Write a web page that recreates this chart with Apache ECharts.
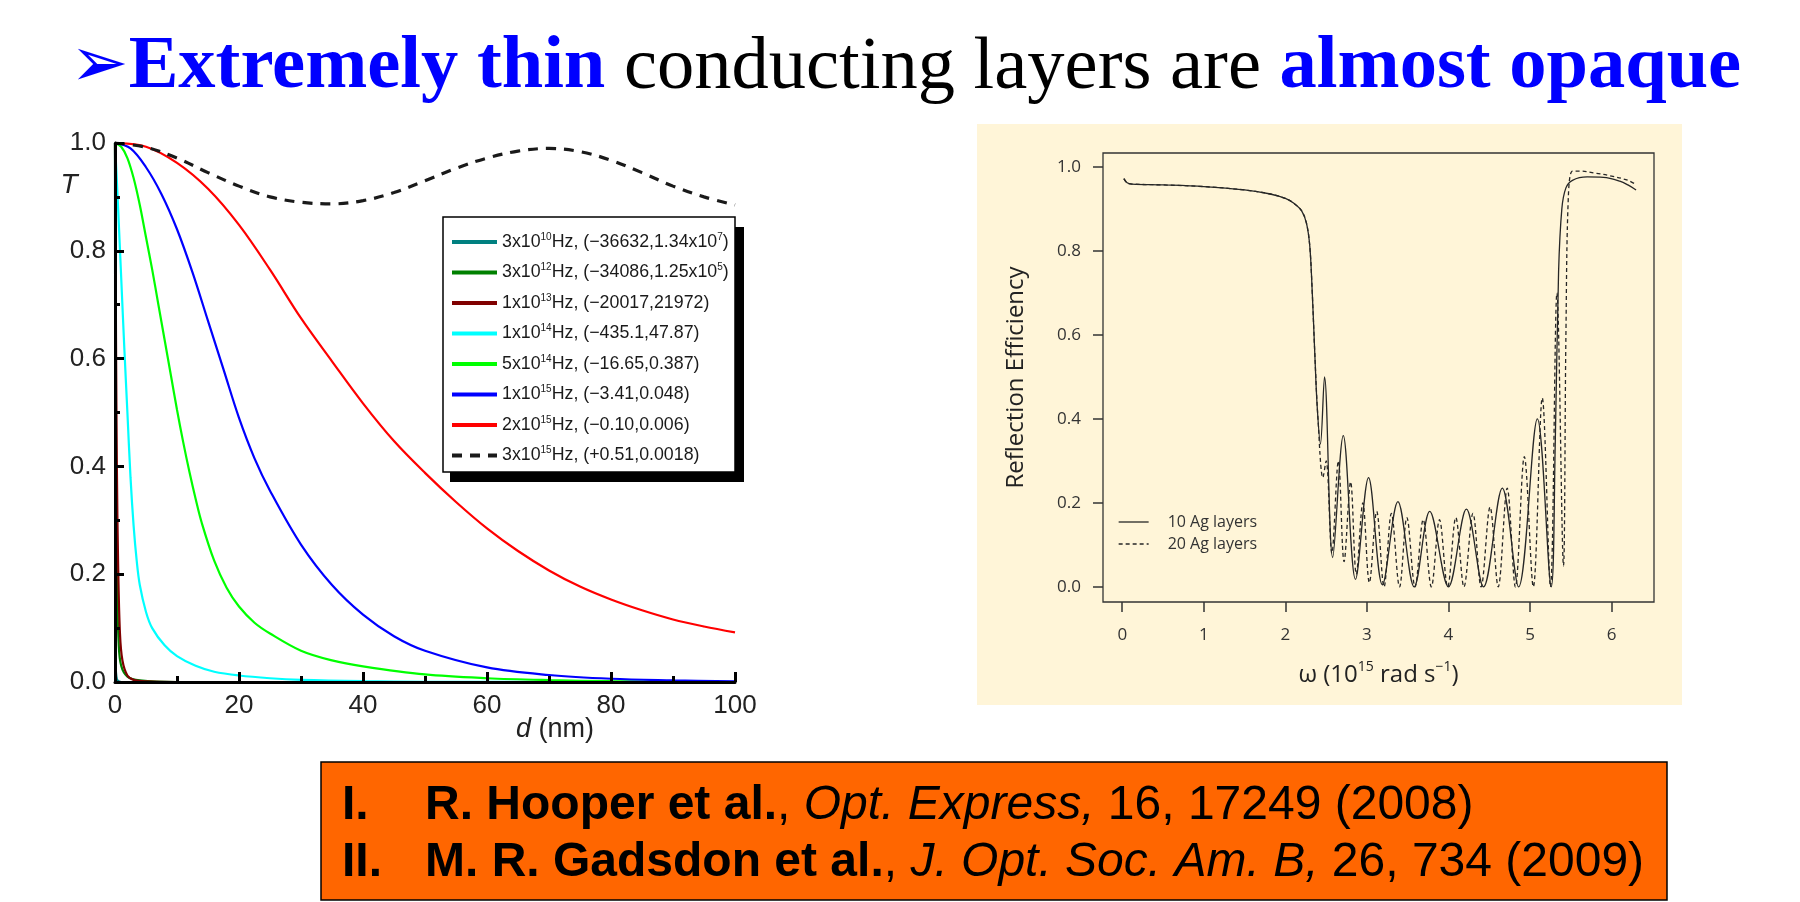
<!DOCTYPE html>
<html><head><meta charset="utf-8">
<script src="https://cdn.jsdelivr.net/npm/echarts@6/dist/echarts.min.js"></script>
<style>html,body{margin:0;padding:0;background:#fff}#main{width:1800px;height:902px}</style>
</head><body><div id="main"></div>
<script>
// ================= DATA =================
// Slide title pieces
const titleParts = [
  ['arrow', '➢'],
  ['hi', 'Extremely thin'],
  ['norm', ' conducting layers are '],
  ['hi', 'almost opaque']
];

// Left chart: transmission T vs film thickness d (nm)
const leftLegendNames = [
  '3x10^10Hz, (−36632,1.34x10^7)',
  '3x10^12Hz, (−34086,1.25x10^5)',
  '1x10^13Hz, (−20017,21972)',
  '1x10^14Hz, (−435.1,47.87)',
  '5x10^14Hz, (−16.65,0.387)',
  '1x10^15Hz, (−3.41,0.048)',
  '2x10^15Hz, (−0.10,0.006)',
  '3x10^15Hz, (+0.51,0.0018)'
];
const t3e10 = [[0,1],[0.02,0.6],[0.05,0.2],[0.1,0.04],[0.3,0.005],[1,0],[100,0]];
const t3e12 = [[0,1],[0.06,0.75],[0.15,0.45],[0.3,0.2],[0.6,0.07],[1,0.03],[2,0.01],[4,0.003],[10,0],[100,0]];
const t1e13 = [[0,1],[0.1,0.8],[0.16,0.64],[0.3,0.4],[0.5,0.22],[0.8,0.09],[1.2,0.04],[2,0.012],[3,0.004],[5,0.001],[10,0],[100,0]];
const t1e14 = [[0,1],[0.5,0.88],[1,0.75],[1.5,0.62],[2,0.5],[2.5,0.38],[3,0.29],[3.5,0.225],[4,0.18],[5,0.13],[6,0.1],[8,0.068],[10,0.048],[13,0.03],[16,0.019],[20,0.012],[25,0.007],[30,0.004],[40,0.0015],[50,0.0005],[60,0.0002],[100,0]];
const t5e14 = [[0,1],[1,0.993],[2,0.972],[3,0.935],[4,0.885],[5,0.825],[6,0.765],[7,0.7],[8,0.635],[9,0.57],[10,0.505],[11,0.445],[12,0.39],[13,0.34],[14,0.295],[16,0.225],[18,0.175],[20,0.14],[22.5,0.11],[25,0.09],[30,0.058],[35,0.04],[40,0.029],[50,0.014],[60,0.007],[70,0.0035],[80,0.0015],[90,0.0006],[100,0]];
const t1e15 = [[0,1],[2.5,0.99],[5,0.955],[7.5,0.905],[10,0.84],[12.5,0.76],[15,0.67],[17.5,0.58],[20,0.49],[22.5,0.415],[25,0.355],[30,0.255],[35,0.18],[40,0.125],[45,0.085],[50,0.058],[60,0.027],[70,0.013],[80,0.006],[90,0.003],[100,0.001]];
const t2e15 = [[0,1],[5,0.993],[10,0.963],[15,0.915],[20,0.848],[25,0.765],[30,0.675],[35,0.595],[40,0.517],[45,0.447],[50,0.388],[55,0.334],[60,0.285],[65,0.243],[70,0.207],[75,0.177],[80,0.153],[85,0.133],[90,0.116],[95,0.103],[100,0.092]];
const t3e15 = [[0,1],[5,0.992],[10,0.972],[15,0.945],[20,0.92],[25,0.9],[30,0.89],[35,0.887],[40,0.893],[45,0.908],[50,0.93],[55,0.953],[60,0.972],[65,0.985],[70,0.99],[75,0.984],[80,0.968],[85,0.945],[90,0.92],[95,0.9],[100,0.885]];
const leftCurves = [t3e10, t3e12, t1e13, t1e14, t5e14, t1e15, t2e15, t3e15];
const leftColors = ['#008080', '#008000', '#800000', '#00FFFF', '#00FF00', '#0000FF', '#FF0000', '#1a1a1a'];

// Right chart: reflection efficiency vs omega (1e15 rad/s)
const rightNames = ['10 Ag layers', '20 Ag layers'];
const r10 = [[0.02,0.972],[0.06,0.962],[0.12,0.959],[0.5,0.957],[1.0,0.953],[1.5,0.945],[1.8,0.936],[2.0,0.925],[2.1,0.914],[2.2,0.895],[2.26,0.865],[2.3,0.81],[2.33,0.70],[2.36,0.56],[2.39,0.43],[2.43,0.34],[2.48,0.50],[2.58,0.07],[2.71,0.36],[2.86,0.018],[3.02,0.26],[3.19,0.005],[3.38,0.203],[3.58,0.0],[3.77,0.18],[4.0,0.0],[4.22,0.185],[4.43,0.0],[4.66,0.235],[4.86,0.0],[5.09,0.40],[5.26,0.0],[5.31,0.35],[5.35,0.75],[5.39,0.9],[5.44,0.95],[5.52,0.968],[5.7,0.976],[5.9,0.975],[6.1,0.966],[6.2,0.957],[6.3,0.945]];
const r20 = [[0.02,0.972],[0.06,0.962],[0.12,0.959],[0.5,0.957],[1.0,0.953],[1.5,0.945],[1.8,0.936],[2.0,0.925],[2.1,0.914],[2.2,0.895],[2.26,0.865],[2.3,0.81],[2.33,0.70],[2.36,0.56],[2.40,0.40],[2.46,0.26],[2.50,0.30],[2.57,0.08],[2.65,0.30],[2.72,0.06],[2.80,0.25],[2.87,0.03],[2.95,0.20],[3.03,0.01],[3.12,0.18],[3.21,0.0],[3.30,0.175],[3.40,0.0],[3.49,0.165],[3.59,0.0],[3.69,0.16],[3.79,0.0],[3.89,0.16],[3.99,0.0],[4.09,0.165],[4.19,0.0],[4.30,0.175],[4.40,0.0],[4.51,0.19],[4.61,0.0],[4.72,0.235],[4.82,0.0],[4.93,0.31],[5.04,0.0],[5.15,0.45],[5.25,0.0],[5.33,0.70],[5.41,0.05],[5.44,0.6],[5.47,0.93],[5.52,0.99],[5.6,0.99],[5.8,0.985],[6.0,0.978],[6.2,0.968],[6.3,0.958]];
const rightXTicks = [0, 1, 2, 3, 4, 5, 6];
const rightYTicks = [0, 0.2, 0.4, 0.6, 0.8, 1.0];

// References box
const refNums = ['I.', 'II.'];
const refAuthors = ['R. Hooper et al.', 'M. R. Gadsdon et al.'];
const refJournals = ['Opt. Express,', 'J. Opt. Soc. Am. B,'];
const refRest = [' 16, 17249 (2008)', ' 26, 734 (2009)'];

// ================= CHART =================
const NARROW = '"Liberation Sans",Arial,sans-serif';
const SANS = '"Open Sans","DejaVu Sans",sans-serif';
const SERIF = '"Liberation Serif","Times New Roman",serif';
const ARIAL = '"Liberation Sans",Arial,sans-serif';

function toRich(s) { return s.replace(/\^([0-9−\-]+)/g, '{s|$1}'); }

const chart = echarts.init(document.getElementById('main'), null, {renderer: 'canvas', width: 1800, height: 902});

const leftSeries = leftCurves.map((c, i) => ({
  type: 'line', name: leftLegendNames[i], xAxisIndex: 0, yAxisIndex: 0,
  data: c, showSymbol: false, symbol: 'none', smooth: 0.35, silent: true,
  lineStyle: {color: leftColors[i], width: i === 7 ? 3.2 : 2.2, type: i === 7 ? [10, 8] : 'solid'},
  itemStyle: {color: leftColors[i]}
}));
const rightSeries = [r10, r20].map((c, i) => ({
  type: 'line', name: rightNames[i], xAxisIndex: 1, yAxisIndex: 1,
  data: c, showSymbol: false, symbol: 'none', smooth: 0.35, silent: true,
  lineStyle: {color: '#262626', width: 1.3, type: i === 1 ? [4, 3] : 'solid'},
  itemStyle: {color: '#262626'}
}));

const titleRich = {
  arrow: {fontSize: 70, fill: '#0000FF', fontFamily: '"DejaVu Sans",sans-serif'},
  hi: {fontSize: 74.5, fontWeight: 'bold', fill: '#0000FF', fontFamily: SERIF},
  norm: {fontSize: 74.5, fill: '#000', fontFamily: SERIF}
};

const graphics = [
  {type: 'rect', z: -10, shape: {x: 977, y: 124, width: 705, height: 581}, style: {fill: '#FFF5D8'}},
  {type: 'rect', z: 2.9, shape: {x: 450, y: 227, width: 294, height: 255}, style: {fill: '#000'}},
  {type: 'rect', z: 3, shape: {x: 443, y: 217, width: 292, height: 255}, style: {fill: '#fff', stroke: '#000', lineWidth: 1.5}},
  {type: 'text', x: 70, y: 68, style: {
    text: titleParts.map(p => '{' + p[0] + '|' + p[1] + '}').join(''),
    verticalAlign: 'middle', rich: titleRich}},
  {type: 'rect', shape: {x: 321, y: 762, width: 1346, height: 138}, style: {fill: '#FF6600', stroke: '#000', lineWidth: 1.5}}
];
refNums.forEach((n, i) => {
  const y = 806 + i * 57;
  graphics.push({type: 'text', x: 342, y: y, style: {text: n, font: 'bold 48px ' + ARIAL, fill: '#000', verticalAlign: 'middle'}});
  graphics.push({type: 'text', x: 425, y: y, style: {
    text: '{b|' + refAuthors[i] + '}{n|, }{i|' + refJournals[i] + '}{n|' + refRest[i] + '}',
    verticalAlign: 'middle',
    rich: {
      b: {fontSize: 48, fontWeight: 'bold', fontFamily: ARIAL, fill: '#000'},
      n: {fontSize: 48, fontFamily: ARIAL, fill: '#000'},
      i: {fontSize: 48, fontStyle: 'italic', fontFamily: ARIAL, fill: '#000'}
    }}});
});

const option = {
  animation: false,
  backgroundColor: '#fff',
  grid: [
    {left: 115, top: 143, width: 620, height: 539, show: false},
    {left: 1103, top: 153, width: 551, height: 449, show: true, borderColor: '#333', borderWidth: 1.3, backgroundColor: 'transparent'}
  ],
  xAxis: [
    {type: 'value', gridIndex: 0, min: 0, max: 100, interval: 20, z: 5,
     axisLine: {show: true, onZero: false, lineStyle: {color: '#000', width: 3}},
     axisTick: {show: true, inside: true, length: 10, lineStyle: {color: '#000', width: 3}},
     minorTick: {show: true, splitNumber: 2, length: 6, lineStyle: {color: '#000', width: 3}},
     splitLine: {show: false}, minorSplitLine: {show: false},
     axisLabel: {fontFamily: NARROW, fontSize: 26, color: '#222', margin: 11},
     name: '{i|d} (nm)', nameLocation: 'middle', nameGap: 34, nameMoveOverlap: false,
     nameTextStyle: {fontFamily: NARROW, fontSize: 27, color: '#222', padding: [0, 0, 0, 260],
       rich: {i: {fontFamily: NARROW, fontSize: 27, fontStyle: 'italic', color: '#222'}}}},
    {type: 'value', gridIndex: 1, min: -0.236, max: 6.52,
     axisLine: {show: false, onZero: false},
     axisTick: {show: true, inside: false, customValues: rightXTicks, length: 10, lineStyle: {color: '#333', width: 1.5}},
     axisLabel: {customValues: rightXTicks, fontFamily: SANS, fontSize: 17, color: '#333', margin: 25},
     splitLine: {show: false},
     name: 'ω (10{s|15} rad s{s|−1})', nameLocation: 'middle', nameGap: 58, nameMoveOverlap: false,
     nameTextStyle: {fontFamily: SANS, fontSize: 24, color: '#222', lineHeight: 30,
       rich: {s: {fontFamily: SANS, fontSize: 14, color: '#222', verticalAlign: 'top', lineHeight: 14}}}}
  ],
  yAxis: [
    {type: 'value', gridIndex: 0, min: 0, max: 1, interval: 0.2, z: 5,
     axisLine: {show: true, onZero: false, lineStyle: {color: '#000', width: 3}},
     axisTick: {show: true, inside: true, length: 9, lineStyle: {color: '#000', width: 3}},
     minorTick: {show: true, splitNumber: 2, length: 5, lineStyle: {color: '#000', width: 3}},
     splitLine: {show: false}, minorSplitLine: {show: false},
     axisLabel: {fontFamily: NARROW, fontSize: 26, color: '#222', margin: 9, formatter: v => v.toFixed(1)},
     name: 'T', nameLocation: 'end', nameGap: -56, nameMoveOverlap: false,
     nameTextStyle: {fontFamily: NARROW, fontSize: 28, fontStyle: 'italic', color: '#222', align: 'center', padding: [0, 92, 0, 0]}},
    {type: 'value', gridIndex: 1, min: -0.036, max: 1.033,
     axisLine: {show: false, onZero: false},
     axisTick: {show: true, inside: false, customValues: rightYTicks, length: 10, lineStyle: {color: '#333', width: 1.5}},
     axisLabel: {customValues: rightYTicks, fontFamily: SANS, fontSize: 17, color: '#333', margin: 22, formatter: v => v.toFixed(1)},
     splitLine: {show: false},
     name: 'Reflection Efficiency', nameLocation: 'middle', nameRotate: 90, nameGap: 75, nameMoveOverlap: false,
     nameTextStyle: {fontFamily: SANS, fontSize: 24, color: '#222'}}
  ],
  legend: [
    {data: leftLegendNames, left: 450, top: 232, orient: 'vertical', padding: 0,
     itemWidth: 45, itemHeight: 14, itemGap: 10.5, selectedMode: false,
     formatter: name => toRich(name),
     lineStyle: {width: 4},
     itemStyle: {opacity: 0},
     textStyle: {fontFamily: NARROW, fontSize: 17.8, color: '#1a1a1a', lineHeight: 20,
       rich: {s: {fontFamily: NARROW, fontSize: 10, color: '#1a1a1a', verticalAlign: 'top', lineHeight: 10}}}},
    {data: rightNames, left: 1118, top: 514, orient: 'vertical', padding: 0,
     itemWidth: 30, itemHeight: 10, itemGap: 6, selectedMode: false,
     lineStyle: {width: 1.3},
     itemStyle: {opacity: 0},
     textStyle: {fontFamily: SANS, fontSize: 16, color: '#333', padding: [0, 0, 0, 14]}}
  ],
  graphic: graphics,
  series: leftSeries.concat(rightSeries)
};
chart.setOption(option);
</script>
</body></html>
